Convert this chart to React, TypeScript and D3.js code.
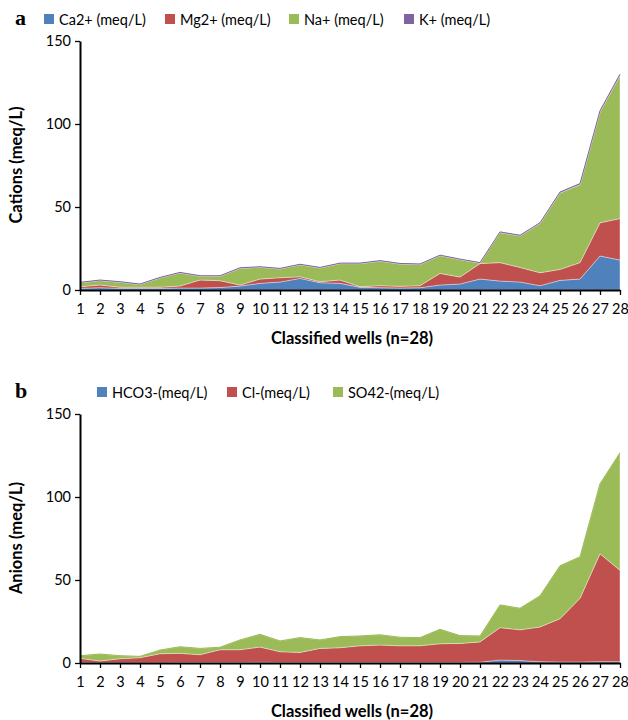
import React, { useEffect, useRef } from "react";
import * as d3 from "d3";

// wells 1..28
const wells = d3.range(1, 29).map(String);

// cations (meq/L), stacked in this order
const ca = [1, 1.4, 1, 1, 1, 1.2, 1.2, 1.5, 2.4, 4, 4.8, 7, 4.4, 4, 1.6, 1.4, 1.2, 1.4, 3, 3.6, 6.6, 5.4, 4.8, 2.6, 5.8, 6.6, 20.5, 18];
const mg = [1, 1.6, 0.7, 0.7, 0.7, 1.2, 4.8, 4.1, 0.6, 2.6, 2.6, 1, 0.6, 2, 0.4, 1.2, 1, 1.2, 7, 4.2, 9.3, 11.1, 8.8, 7.8, 6.6, 9.9, 20, 25];
const na = [2.3, 2.7, 3, 1.6, 5.6, 7.9, 2.3, 2.7, 10.1, 7.1, 5.3, 7.2, 8.3, 9.9, 13.9, 14.8, 13.5, 12.8, 10.7, 10.5, 0.3, 18.1, 19, 29.6, 46, 47, 66.7, 86.2];
const k = [0.3, 0.3, 0.3, 0.3, 0.3, 0.3, 0.3, 0.3, 0.3, 0.3, 0.3, 0.3, 0.3, 0.3, 0.3, 0.3, 0.3, 0.3, 0.3, 0.3, 0.3, 0.4, 0.4, 0.5, 0.6, 0.6, 0.8, 0.8];

// anions (meq/L), stacked in this order
const hco3 = [0.2, 0.2, 0.2, 0.2, 0.2, 0.3, 0.3, 0.3, 0.3, 0.4, 0.3, 0.3, 0.3, 0.3, 0.3, 0.3, 0.3, 0.3, 0.3, 0.3, 0.5, 1.8, 1.5, 0.8, 0.6, 0.6, 0.8, 0.8];
const cl = [2.6, 1, 2.4, 3, 5.4, 5.5, 4.7, 7.7, 7.7, 9.2, 6.5, 6.1, 8.5, 8.9, 10.1, 10.5, 10.1, 10.1, 11.3, 11.5, 12.2, 19.5, 18.5, 20.9, 26.1, 38.4, 65, 55];
const so4 = [1.6, 4.2, 1.8, 0.8, 2.2, 4, 3.8, 1.5, 5.9, 7.7, 6.5, 8.9, 5.1, 6.7, 5.9, 6.2, 5.1, 4.9, 8.7, 4.7, 3.6, 13.7, 13, 18.8, 31.9, 25, 42.2, 70.9];

const blue = "#4F81BD";
const red = "#C0504D";
const green = "#9BBB59";
const purple = "#8064A2";

const font = "Lato, 'Open Sans', sans-serif";

type Series = { name: string; values: number[]; color: string };

function StackedArea(props: {
  top: number;
  series: Series[];
  letter: string;
  legendX: number[];
  yTitle: string;
}) {
  const { top, series, letter, legendX, yTitle } = props;
  const ref = useRef<SVGGElement>(null);

  useEffect(() => {
    const g = d3.select(ref.current);
    g.selectAll("*").remove();

    const y0 = top + 249; // zero line
    const x = d3.scalePoint().domain(wells).range([80, 620]);
    const y = d3.scaleLinear().domain([0, 150]).range([y0, top]);

    const rows = wells.map((w, i) => {
      const r: any = { well: w };
      series.forEach((s) => (r[s.name] = s.values[i]));
      return r;
    });
    const stacked = d3.stack().keys(series.map((s) => s.name))(rows);

    const area = d3
      .area<any>()
      .x((d) => x(d.data.well)!)
      .y0((d) => y(d[0]))
      .y1((d) => y(d[1]));

    g.selectAll("path.layer")
      .data(stacked)
      .join("path")
      .attr("class", "layer")
      .attr("d", area)
      .attr("fill", (d, i) => series[i].color)
      .attr("stroke", "#ffffff")
      .attr("stroke-opacity", 0.6)
      .attr("stroke-width", 0.6);

    // top edge of last layer
    const last = stacked[stacked.length - 1];
    g.append("path")
      .datum(last)
      .attr("fill", "none")
      .attr("stroke", series[series.length - 1].color)
      .attr("stroke-width", 1)
      .attr(
        "d",
        d3
          .line<any>()
          .x((d) => x(d.data.well)!)
          .y((d) => y(d[1]))
      );

    // x axis
    const xa = g
      .append("g")
      .attr("transform", `translate(0,${y0})`)
      .call(d3.axisBottom(x).tickSize(5).tickSizeOuter(0).tickPadding(9));
    xa.select(".domain").attr("stroke-width", 2.2);
    xa.selectAll(".tick line").attr("stroke-width", 1.3);
    xa.selectAll("text").attr("font-size", 14.5).attr("font-family", font).attr("fill", "#000");

    // y axis
    const ya = g
      .append("g")
      .attr("transform", "translate(80,0)")
      .call(d3.axisLeft(y).tickValues([0, 50, 100, 150]).tickSize(5).tickSizeOuter(0).tickPadding(4));
    ya.select(".domain").attr("stroke-width", 2);
    ya.selectAll(".tick line").attr("stroke-width", 1.3);
    ya.selectAll("text").attr("font-size", 14.5).attr("font-family", font).attr("fill", "#000");

    // titles
    g.append("text")
      .attr("transform", `translate(22,${top + 124}) rotate(-90)`)
      .attr("text-anchor", "middle")
      .attr("font-family", font)
      .attr("font-weight", "bold")
      .attr("font-size", 16.5)
      .text(yTitle);

    g.append("text")
      .attr("x", 352)
      .attr("y", y0 + 54)
      .attr("text-anchor", "middle")
      .attr("font-family", font)
      .attr("font-weight", "bold")
      .attr("font-size", 16.5)
      .text("Classified wells (n=28)");

    // panel letter
    g.append("text")
      .attr("x", 15)
      .attr("y", top - 16)
      .attr("font-family", "'Liberation Serif', serif")
      .attr("font-weight", "bold")
      .attr("font-size", 22)
      .text(letter);

    // legend
    const lg = g
      .selectAll("g.leg")
      .data(series)
      .join("g")
      .attr("class", "leg")
      .attr("transform", (d, i) => `translate(${legendX[i]},${top - 22})`);
    lg.append("rect").attr("x", 0).attr("y", -5).attr("width", 10).attr("height", 10).attr("fill", (d) => d.color);
    lg.append("text")
      .attr("x", 15)
      .attr("y", 5.5)
      .attr("font-family", font)
      .attr("font-size", 14.5)
      .text((d) => d.name);
  }, [top, series]);

  return <g ref={ref} />;
}

export default function App() {
  const cations: Series[] = [
    { name: "Ca2+ (meq/L)", values: ca, color: blue },
    { name: "Mg2+ (meq/L)", values: mg, color: red },
    { name: "Na+ (meq/L)", values: na, color: green },
    { name: "K+ (meq/L)", values: k, color: purple },
  ];
  const anions: Series[] = [
    { name: "HCO3-(meq/L)", values: hco3, color: blue },
    { name: "Cl-(meq/L)", values: cl, color: red },
    { name: "SO42-(meq/L)", values: so4, color: green },
  ];

  return (
    <svg
      width={628}
      height={720}
      style={{ position: "absolute", left: 0, top: 0, background: "#fff" }}
    >
      <StackedArea top={41} series={cations} letter="a" legendX={[44, 165, 289, 404]} yTitle="Cations (meq/L)" />
      <StackedArea top={414} series={anions} letter="b" legendX={[97, 227, 333]} yTitle="Anions (meq/L)" />
    </svg>
  );
}
